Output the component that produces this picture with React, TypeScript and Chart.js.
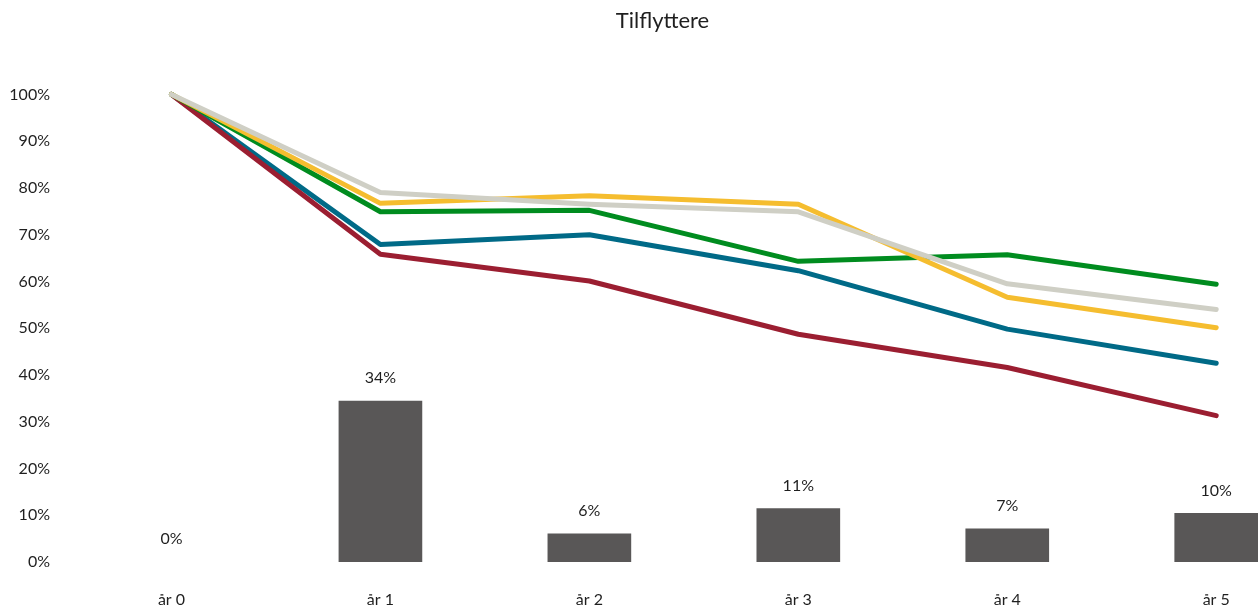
import React, { useEffect, useRef } from "react";
import { Chart, registerables } from "chart.js";

Chart.register(...registerables);

const categories = ["år 0", "år 1", "år 2", "år 3", "år 4", "år 5"];
const barValues = [0, 0.344, 0.06, 0.114, 0.071, 0.104];
const blueValues = [1, 0.679, 0.7, 0.623, 0.498, 0.425];
const redValues = [1, 0.658, 0.601, 0.487, 0.416, 0.313];
const greenValues = [1, 0.749, 0.752, 0.643, 0.657, 0.594];
const yellowValues = [1, 0.767, 0.783, 0.765, 0.566, 0.501];
const grayValues = [1, 0.79, 0.765, 0.749, 0.595, 0.54];
const yTicks = [0, 0.1, 0.2, 0.3, 0.4, 0.5, 0.6, 0.7, 0.8, 0.9, 1];

const FONT = "Lato, 'Open Sans', sans-serif";
const TEXT = "#1f1f1f";

const toPoints = (vals: number[]) => vals.map((y, i) => ({ x: i, y }));
const pct = (v: number) => Math.round(v * 100) + "%";

const barLabelPlugin = {
  id: "barLabels",
  afterDatasetsDraw(chart: any) {
    const ctx = chart.ctx;
    const meta = chart.getDatasetMeta(0);
    ctx.save();
    ctx.font = `16px ${FONT}`;
    ctx.fillStyle = TEXT;
    ctx.textAlign = "center";
    ctx.textBaseline = "middle";
    meta.data.forEach((el: any, i: number) => {
      ctx.fillText(pct(barValues[i]), el.x, el.y - 23);
    });
    ctx.restore();
  },
};

export default function App() {
  const ref = useRef<HTMLCanvasElement | null>(null);
  useEffect(() => {
    if (!ref.current) return;
    const line = (label: string, vals: number[], color: string, order: number) => ({
      type: "line" as const,
      label,
      data: toPoints(vals),
      borderColor: color,
      backgroundColor: color,
      borderWidth: 5,
      pointRadius: 0,
      borderCapStyle: "round" as const,
      borderJoinStyle: "round" as const,
      tension: 0,
      clip: false as any,
      order,
    });
    const chart = new Chart(ref.current, {
      type: "bar",
      data: {
        datasets: [
          {
            type: "bar",
            label: "Andel",
            data: toPoints(barValues),
            backgroundColor: (c: any) =>
              c.raw && c.raw.y > 0 ? "#595757" : "rgba(0,0,0,0)",
            barThickness: 83,
            order: 10,
          } as any,
          line("Blå", blueValues, "#006A87", 5),
          line("Rød", redValues, "#9B1E31", 4),
          line("Grønn", greenValues, "#008C1F", 3),
          line("Gul", yellowValues, "#F5BD2F", 2),
          line("Grå", grayValues, "#CFCFC5", 1),
        ],
      },
      options: {
        animation: false,
        responsive: true,
        maintainAspectRatio: false,
        layout: { padding: 0 },
        plugins: {
          legend: { display: false },
          tooltip: { enabled: false },
          title: {
            display: true,
            text: "Tilflyttere",
            fullSize: false,
            color: TEXT,
            font: { family: FONT, size: 22, weight: "normal" },
            padding: { top: 8, bottom: 60 },
          },
        },
        scales: {
          x: {
            type: "linear",
            offset: false,
            min: -0.5,
            max: 5.2,
            grid: { display: false, drawTicks: false, offset: false },
            border: { display: false },
            afterBuildTicks: (scale: any) => {
              scale.ticks = categories.map((_, i) => ({ value: i }));
            },
            afterFit: (scale: any) => {
              scale.height = 47;
            },
            ticks: {
              padding: 28,
              autoSkip: false,
              maxRotation: 0,
              color: TEXT,
              font: { family: FONT, size: 16 },
              callback: (v: any) => categories[Math.round(Number(v))] ?? "",
            },
          },
          y: {
            min: 0,
            max: 1,
            grid: { display: false, drawTicks: false },
            border: { display: false },
            afterBuildTicks: (scale: any) => {
              scale.ticks = yTicks.map((v) => ({ value: v }));
            },
            afterFit: (scale: any) => {
              scale.width = 67;
            },
            ticks: {
              padding: 17,
              color: TEXT,
              font: { family: FONT, size: 16 },
              callback: (v: any) => pct(Number(v)),
            },
          },
        },
      } as any,
      plugins: [barLabelPlugin],
    });
    return () => chart.destroy();
  }, []);
  return (
    <div style={{ position: "fixed", left: 0, top: 0, width: 1258, height: 609, background: "#fff" }}>
      <canvas ref={ref} />
    </div>
  );
}
